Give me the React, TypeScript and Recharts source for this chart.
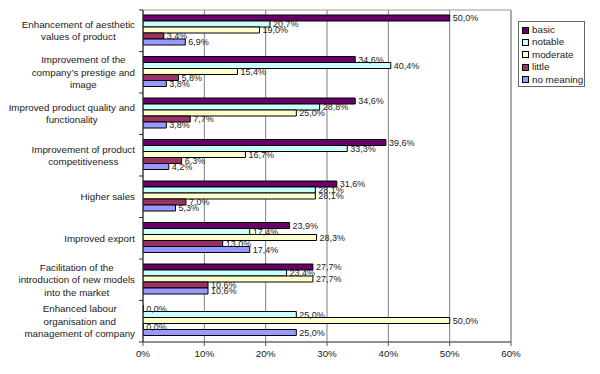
import React from 'react';
import { BarChart, Bar, XAxis, YAxis, CartesianGrid, LabelList, Legend, ReferenceArea } from 'recharts';

const categoryLabels: string[][] = [
  ['Enhancement of aesthetic', 'values of product'],
  ['Improvement of the', 'company\u2019s prestige and', 'image'],
  ['Improved product quality and', 'functionality'],
  ['Improvement of product', 'competitiveness'],
  ['Higher sales'],
  ['Improved export'],
  ['Facilitation of the', 'introduction of new models', 'into the market'],
  ['Enhanced labour', 'organisation and', 'management of company'],
];
const seriesNames = ['basic', 'notable', 'moderate', 'little', 'no meaning'];
const seriesKeys = ['basic', 'notable', 'moderate', 'little', 'noMeaning'];
const seriesColors = ['#660066', '#CCFFFF', '#FFFFCC', '#993366', '#9999FF'];
const basic = [50.0, 34.6, 34.6, 39.6, 31.6, 23.9, 27.7, 0.0];
const notable = [20.7, 40.4, 28.8, 33.3, 28.1, 17.4, 23.4, 25.0];
const moderate = [19.0, 15.4, 25.0, 16.7, 28.1, 28.3, 27.7, 50.0];
const little = [3.4, 5.8, 7.7, 6.3, 7.0, 13.0, 10.6, 0.0];
const noMeaning = [6.9, 3.8, 3.8, 4.2, 5.3, 17.4, 10.6, 25.0];
const xTicks = [0, 10, 20, 30, 40, 50, 60];

const FONT = "'Liberation Sans', Arial, sans-serif";
const CHART_W = 600;
const CHART_H = 374;
const MARGIN = { top: 10, right: 89, bottom: 0, left: 0 };
const XAXIS_H = 32;
const YAXIS_W = 143;
const LABEL_RIGHT = 135;
const LINE_H = 12.3;
const TICK_FONT = 9.8;
const BAND = (CHART_H - MARGIN.top - MARGIN.bottom - XAXIS_H) / categoryLabels.length;

const data = categoryLabels.map((lines, i) => ({
  name: lines.join(' '),
  basic: basic[i],
  notable: notable[i],
  moderate: moderate[i],
  little: little[i],
  noMeaning: noMeaning[i],
}));

let ctx: CanvasRenderingContext2D | null = null;
function textWidth(s: string): number {
  if (!ctx && typeof document !== 'undefined') {
    ctx = document.createElement('canvas').getContext('2d');
  }
  if (!ctx) return s.length * 5;
  ctx.font = `${TICK_FONT}px ${FONT}`;
  return ctx.measureText(s).width;
}

const YTick = (props: any) => {
  const { y, payload, index } = props;
  const idx = data.findIndex((d) => d.name === payload.value);
  const lines = categoryLabels[idx >= 0 ? idx : index] || [String(payload.value)];
  const blockW = Math.max(...lines.map(textWidth));
  const cx = LABEL_RIGHT - blockW / 2;
  const n = lines.length;
  const isLast = idx === categoryLabels.length - 1;
  return (
    <g>
      <line x1={YAXIS_W - 4} x2={YAXIS_W} y1={y - BAND / 2} y2={y - BAND / 2} stroke="#333" />
      {isLast && <line x1={YAXIS_W - 4} x2={YAXIS_W} y1={y + BAND / 2} y2={y + BAND / 2} stroke="#333" />}
      {lines.map((l, i) => (
        <text
          key={i}
          x={cx}
          y={y + (i - (n - 1) / 2) * LINE_H}
          textAnchor="middle"
          dominantBaseline="central"
          fontFamily={FONT}
          fontSize={TICK_FONT}
          fill="#222"
        >
          {l}
        </text>
      ))}
    </g>
  );
};

const fmt = (v: any) => `${Number(v).toFixed(1).replace('.', ',')}%`;

const LegendBox = () => (
  <div
    style={{
      border: '1px solid #666',
      background: '#fff',
      padding: '2px 0 0 3px',
      fontFamily: FONT,
      fontSize: TICK_FONT,
      color: '#222',
      boxSizing: 'border-box',
      width: 67,
      height: 66,
    }}
  >
    {seriesNames.map((n, i) => (
      <div key={n} style={{ display: 'flex', alignItems: 'center', height: 12.4, lineHeight: '12.4px', whiteSpace: 'nowrap' }}>
        <span
          style={{
            display: 'inline-block',
            width: 5,
            height: 5,
            border: '1px solid #000',
            background: seriesColors[i],
            marginRight: 3,
          }}
        />
        {n}
      </div>
    ))}
  </div>
);

export default function App() {
  return (
    <div style={{ position: 'absolute', left: 0, top: 0, width: CHART_W, height: CHART_H, background: '#fff' }}>
      <BarChart
        width={CHART_W}
        height={CHART_H}
        data={data}
        layout="vertical"
        margin={MARGIN}
        barCategoryGap={5}
        barGap={0}
      >
        <CartesianGrid horizontal={false} stroke="#808080" />
        <ReferenceArea x1={0} x2={60} stroke="#999" fill="none" strokeWidth={1} />
        <XAxis
          type="number"
          domain={[0, 60]}
          ticks={xTicks}
          tickFormatter={(v) => `${v}%`}
          height={XAXIS_H}
          tick={{ fontSize: TICK_FONT, fill: '#222', fontFamily: FONT }}
          tickLine={{ stroke: '#555' }}
          tickSize={4}
          tickMargin={4}
          axisLine={{ stroke: '#555' }}
          allowDataOverflow
        />
        <YAxis
          type="category"
          dataKey="name"
          width={YAXIS_W}
          interval={0}
          tickLine={false}
          axisLine={{ stroke: '#333' }}
          tick={<YTick />}
        />
        <Legend
          layout="vertical"
          align="center"
          verticalAlign="middle"
          wrapperStyle={{ left: 518, top: 21, width: 67 }}
          content={() => <LegendBox />}
        />
        {seriesKeys.map((k, i) => (
          <Bar
            key={k}
            dataKey={k}
            name={seriesNames[i]}
            fill={seriesColors[i]}
            stroke="#000"
            strokeWidth={1}
            minPointSize={0.3}
            isAnimationActive={false}
          >
            <LabelList
              dataKey={k}
              position="right"
              offset={3}
              formatter={fmt}
              style={{ fontSize: 9, fontFamily: FONT, fill: '#222' }}
            />
          </Bar>
        ))}
      </BarChart>
    </div>
  );
}
